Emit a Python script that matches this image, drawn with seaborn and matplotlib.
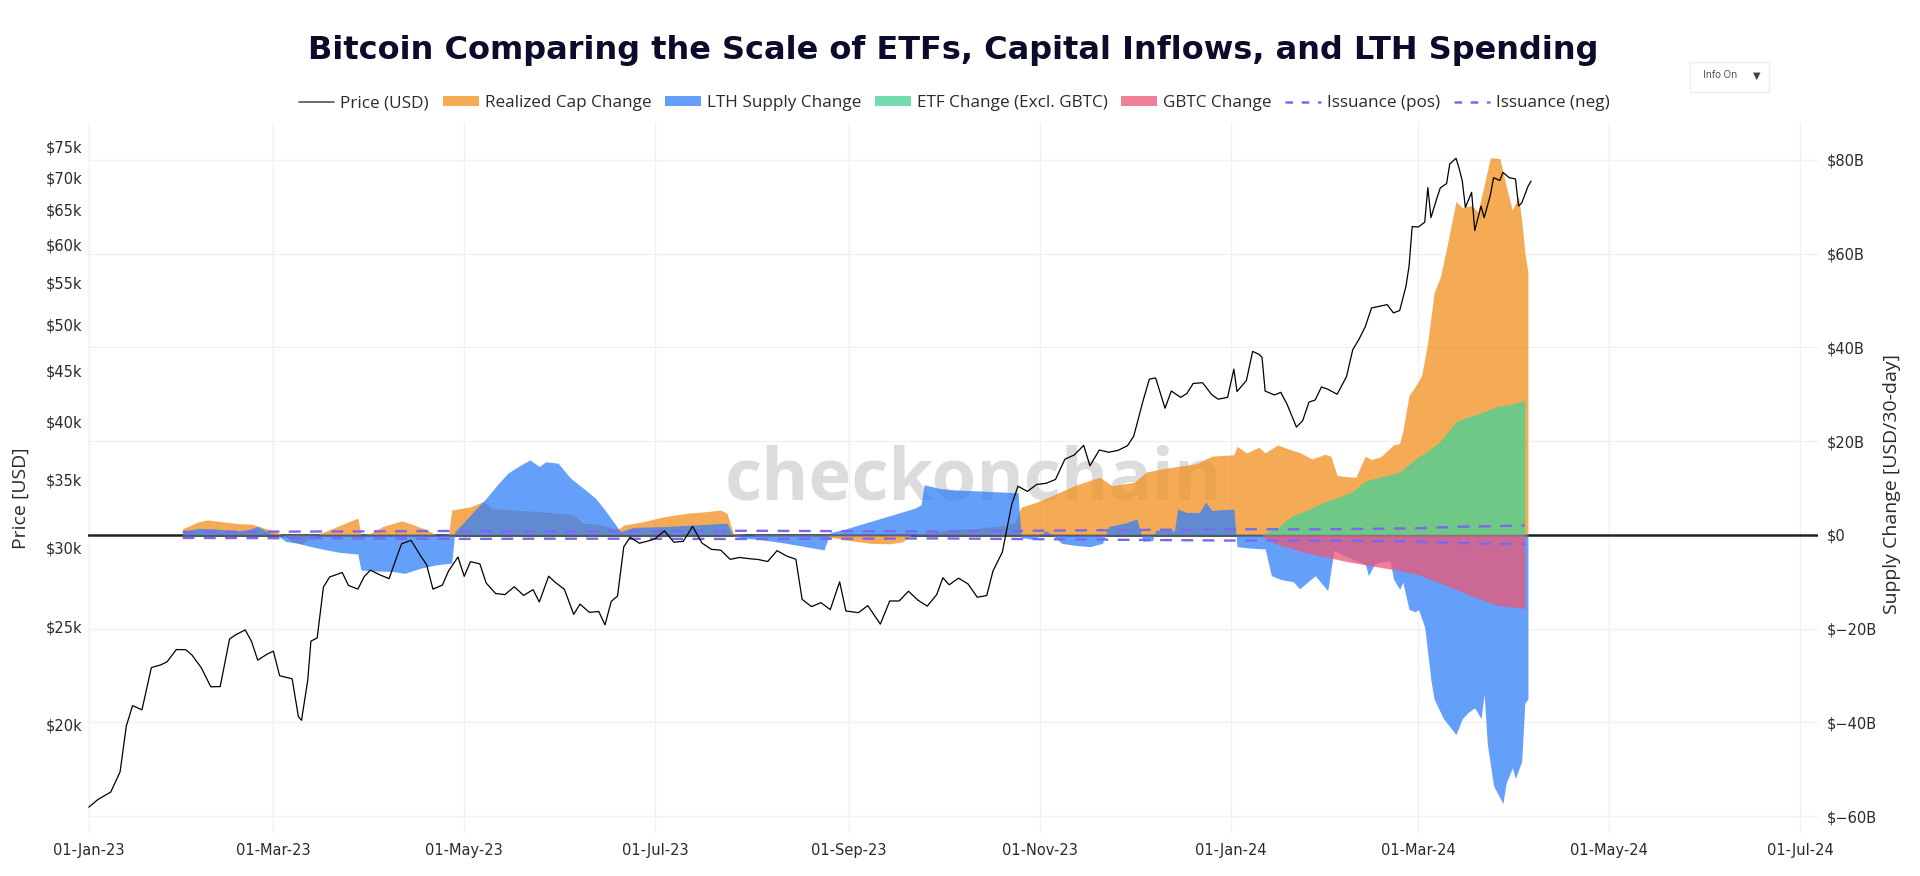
import pandas as pd
import matplotlib.pyplot as plt
import seaborn as sns
from matplotlib.lines import Line2D
from matplotlib.patches import Patch, Rectangle
from matplotlib.ticker import FixedLocator, NullLocator

# --- Data ---
# BTC price (USD), left log axis
price_dates = [
    "2023-01-01", "2023-01-04", "2023-01-08", "2023-01-11", "2023-01-13", "2023-01-15", "2023-01-18",
    "2023-01-21", "2023-01-24", "2023-01-26", "2023-01-29", "2023-02-01", "2023-02-03", "2023-02-06",
    "2023-02-09", "2023-02-12", "2023-02-15", "2023-02-17", "2023-02-20", "2023-02-22", "2023-02-24",
    "2023-02-27", "2023-03-01", "2023-03-03", "2023-03-07", "2023-03-09", "2023-03-10", "2023-03-12",
    "2023-03-13", "2023-03-15", "2023-03-17", "2023-03-19", "2023-03-21", "2023-03-23", "2023-03-25",
    "2023-03-28", "2023-03-30", "2023-04-01", "2023-04-04", "2023-04-07", "2023-04-10", "2023-04-11",
    "2023-04-14", "2023-04-17", "2023-04-19", "2023-04-21", "2023-04-24", "2023-04-26", "2023-04-29",
    "2023-05-01", "2023-05-03", "2023-05-06", "2023-05-08", "2023-05-11", "2023-05-14", "2023-05-17",
    "2023-05-20", "2023-05-23", "2023-05-25", "2023-05-28", "2023-05-30", "2023-06-02", "2023-06-05",
    "2023-06-07", "2023-06-10", "2023-06-13", "2023-06-15", "2023-06-17", "2023-06-19", "2023-06-21",
    "2023-06-23", "2023-06-26", "2023-06-29", "2023-07-01", "2023-07-04", "2023-07-07", "2023-07-10",
    "2023-07-13", "2023-07-16", "2023-07-19", "2023-07-22", "2023-07-25", "2023-07-28", "2023-07-31",
    "2023-08-03", "2023-08-06", "2023-08-09", "2023-08-12", "2023-08-15", "2023-08-17", "2023-08-20",
    "2023-08-23", "2023-08-26", "2023-08-29", "2023-08-31", "2023-09-04", "2023-09-07", "2023-09-11",
    "2023-09-14", "2023-09-17", "2023-09-20", "2023-09-23", "2023-09-26", "2023-09-29", "2023-10-01",
    "2023-10-03", "2023-10-06", "2023-10-09", "2023-10-12", "2023-10-15", "2023-10-17", "2023-10-20",
    "2023-10-23", "2023-10-25", "2023-10-28", "2023-10-31", "2023-11-03", "2023-11-06", "2023-11-09",
    "2023-11-12", "2023-11-15", "2023-11-17", "2023-11-20", "2023-11-23", "2023-11-26", "2023-11-29",
    "2023-12-01", "2023-12-04", "2023-12-06", "2023-12-08", "2023-12-11", "2023-12-13", "2023-12-16",
    "2023-12-18", "2023-12-20", "2023-12-23", "2023-12-26", "2023-12-28", "2023-12-31", "2024-01-02",
    "2024-01-03", "2024-01-06", "2024-01-08", "2024-01-10", "2024-01-11", "2024-01-12", "2024-01-15",
    "2024-01-17", "2024-01-19", "2024-01-22", "2024-01-24", "2024-01-26", "2024-01-28", "2024-01-30",
    "2024-02-01", "2024-02-04", "2024-02-07", "2024-02-09", "2024-02-11", "2024-02-13", "2024-02-15",
    "2024-02-18", "2024-02-20", "2024-02-22", "2024-02-24", "2024-02-26", "2024-02-27", "2024-02-28",
    "2024-03-01", "2024-03-03", "2024-03-04", "2024-03-05", "2024-03-07", "2024-03-08", "2024-03-10",
    "2024-03-11", "2024-03-13", "2024-03-14", "2024-03-15", "2024-03-16", "2024-03-18", "2024-03-19",
    "2024-03-21", "2024-03-22", "2024-03-24", "2024-03-25", "2024-03-27", "2024-03-28", "2024-03-30",
    "2024-04-01", "2024-04-02", "2024-04-03", "2024-04-05", "2024-04-06",
]
price_usd = [
    16550, 16850, 17130, 17940, 19930, 20880, 20680,
    22780, 22920, 23080, 23740, 23730, 23440, 22760,
    21800, 21810, 24320, 24560, 24830, 24190, 23170,
    23490, 23650, 22360, 22200, 20360, 20190, 22150,
    24200, 24380, 27390, 28030, 28170, 28320, 27490,
    27260, 28040, 28470, 28170, 27920, 29680, 30240,
    30480, 29440, 28820, 27260, 27510, 28420, 29340,
    28070, 29030, 28880, 27650, 26990, 26920, 27410,
    26870, 27230, 26470, 28080, 27700, 27250, 25730,
    26340, 25850, 25900, 25120, 26510, 26830, 30030,
    30690, 30280, 30450, 30590, 31150, 30350, 30410,
    31470, 30290, 29860, 29800, 29180, 29310, 29230,
    29170, 29040, 29770, 29410, 29190, 26630, 26190,
    26430, 26010, 27720, 25930, 25830, 26250, 25160,
    26530, 26530, 27130, 26580, 26220, 26910, 27980,
    27530, 27950, 27590, 26760, 26860, 28410, 29670,
    33090, 34500, 34090, 34640, 34730, 35040, 36700,
    37060, 37880, 36150, 37480, 37290, 37450, 37850,
    38690, 41980, 44080, 44200, 41240, 42900, 42280,
    42660, 43650, 43720, 42520, 42100, 42280, 45100,
    42850, 43930, 46970, 46660, 46340, 42890, 42510,
    42770, 41620, 39500, 40080, 41820, 42030, 43300,
    43080, 42580, 44330, 47150, 48300, 49700, 51880,
    52120, 52280, 51300, 51570, 54500, 57090, 62500,
    62440, 63130, 68330, 63800, 66850, 68300, 68960,
    72120, 73080, 71400, 69400, 65300, 67600, 61930,
    65500, 63780, 67200, 69900, 69450, 70750, 69900,
    69700, 65500, 65970, 68500, 69360,
]

# Realized cap change (USD bn / 30-day), right axis
rc_dates = [
    "2023-01-31", "2023-02-05", "2023-02-08", "2023-02-14", "2023-02-18", "2023-02-22", "2023-02-24",
    "2023-03-01", "2023-03-04", "2023-03-07", "2023-03-10", "2023-03-13", "2023-03-16", "2023-03-20",
    "2023-03-24", "2023-03-28", "2023-03-29", "2023-04-01", "2023-04-05", "2023-04-11", "2023-04-15",
    "2023-04-19", "2023-04-22", "2023-04-26", "2023-04-27", "2023-05-03", "2023-05-07", "2023-05-10",
    "2023-05-17", "2023-05-24", "2023-06-01", "2023-06-05", "2023-06-08", "2023-06-12", "2023-06-16",
    "2023-06-19", "2023-06-21", "2023-06-27", "2023-07-04", "2023-07-11", "2023-07-18", "2023-07-22",
    "2023-07-24", "2023-07-26", "2023-08-05", "2023-08-18", "2023-08-26", "2023-09-01", "2023-09-08",
    "2023-09-14", "2023-09-18", "2023-09-21", "2023-10-03", "2023-10-12", "2023-10-21", "2023-10-24",
    "2023-10-26", "2023-10-31", "2023-11-06", "2023-11-12", "2023-11-20", "2023-11-21", "2023-11-24",
    "2023-12-01", "2023-12-05", "2023-12-10", "2023-12-16", "2023-12-21", "2023-12-26", "2024-01-02",
    "2024-01-03", "2024-01-06", "2024-01-10", "2024-01-12", "2024-01-16", "2024-01-20", "2024-01-23",
    "2024-01-27", "2024-01-31", "2024-02-02", "2024-02-04", "2024-02-06", "2024-02-10", "2024-02-13",
    "2024-02-15", "2024-02-18", "2024-02-22", "2024-02-24", "2024-02-25", "2024-02-27", "2024-02-29",
    "2024-03-02", "2024-03-04", "2024-03-06", "2024-03-08", "2024-03-10", "2024-03-13", "2024-03-15",
    "2024-03-18", "2024-03-20", "2024-03-22", "2024-03-24", "2024-03-27", "2024-03-29", "2024-03-31",
    "2024-04-02", "2024-04-03", "2024-04-04", "2024-04-05",
]
rc_change = [
    1.3, 2.8, 3.2, 2.7, 2.4, 2.3, 1.9,
    0.85, 0.0, -1.4, -2.0, -0.7, 0.35, 1.4,
    2.5, 3.6, 0.0, 0.35, 1.8, 3.0, 2.1,
    1.1, 0.0, 0.1, 5.3, 6.0, 7.1, 5.7,
    5.3, 5.0, 4.6, 4.3, 2.5, 2.3, 1.8,
    1.1, 2.1, 2.8, 3.9, 4.6, 5.0, 5.3,
    4.6, 0.3, -0.3, -0.4, -0.5, -1.2, -1.8,
    -1.9, -1.5, 0.0, 1.1, 1.4, 2.1, 2.7,
    5.9, 7.0, 8.7, 10.5, 12.3, 11.9, 10.5,
    11.2, 13.4, 14.1, 14.7, 15.2, 16.8, 17.1,
    18.9, 17.5, 18.7, 17.5, 19.2, 18.2, 17.6,
    16.2, 17.2, 16.8, 12.7, 12.5, 12.3, 16.8,
    16.1, 16.7, 19.2, 19.5, 22.2, 29.8, 31.7,
    34.0, 41.2, 51.7, 55.0, 61.2, 71.2, 69.8,
    70.3, 68.9, 74.6, 80.5, 80.3, 74.6, 69.3,
    72.2, 67.0, 60.3, 56.0,
]

# LTH supply change (USD bn / 30-day)
lth_dates = [
    "2023-01-31", "2023-02-05", "2023-02-10", "2023-02-17", "2023-02-21", "2023-02-24", "2023-02-28",
    "2023-03-02", "2023-03-05", "2023-03-09", "2023-03-13", "2023-03-18", "2023-03-22", "2023-03-28",
    "2023-03-29", "2023-04-03", "2023-04-08", "2023-04-12", "2023-04-17", "2023-04-22", "2023-04-27",
    "2023-04-28", "2023-05-01", "2023-05-04", "2023-05-08", "2023-05-12", "2023-05-15", "2023-05-19",
    "2023-05-22", "2023-05-25", "2023-05-27", "2023-05-31", "2023-06-04", "2023-06-08", "2023-06-12",
    "2023-06-15", "2023-06-18", "2023-06-20", "2023-06-24", "2023-07-05", "2023-07-18", "2023-07-24",
    "2023-07-26", "2023-07-30", "2023-08-05", "2023-08-12", "2023-08-18", "2023-08-24", "2023-08-26",
    "2023-08-30", "2023-09-06", "2023-09-15", "2023-09-22", "2023-09-24", "2023-09-25", "2023-09-30",
    "2023-10-05", "2023-10-12", "2023-10-18", "2023-10-25", "2023-10-26", "2023-10-30", "2023-11-03",
    "2023-11-05", "2023-11-08", "2023-11-12", "2023-11-17", "2023-11-21", "2023-11-23", "2023-11-28",
    "2023-12-02", "2023-12-04", "2023-12-07", "2023-12-08", "2023-12-12", "2023-12-14", "2023-12-15",
    "2023-12-18", "2023-12-22", "2023-12-24", "2023-12-26", "2023-12-29", "2024-01-02", "2024-01-03",
    "2024-01-07", "2024-01-12", "2024-01-14", "2024-01-17", "2024-01-21", "2024-01-23", "2024-01-28",
    "2024-02-01", "2024-02-03", "2024-02-06", "2024-02-10", "2024-02-13", "2024-02-14", "2024-02-16",
    "2024-02-18", "2024-02-21", "2024-02-22", "2024-02-24", "2024-02-25", "2024-02-27", "2024-02-29",
    "2024-03-01", "2024-03-03", "2024-03-05", "2024-03-06", "2024-03-09", "2024-03-13", "2024-03-15",
    "2024-03-17", "2024-03-19", "2024-03-21", "2024-03-22", "2024-03-23", "2024-03-25", "2024-03-28",
    "2024-03-29", "2024-03-31", "2024-04-01", "2024-04-03", "2024-04-04", "2024-04-05",
]
lth_change = [
    0.7, 1.4, 1.3, 0.85, 1.1, 1.8, 0.35,
    0.0, -1.4, -1.8, -2.5, -3.2, -3.7, -4.1,
    -7.5, -7.7, -7.8, -8.2, -7.1, -6.4, -6.0,
    0.7, 2.8, 5.0, 7.8, 11.0, 13.2, 14.9,
    16.0, 14.6, 15.6, 15.3, 12.1, 10.0, 7.8,
    5.3, 2.5, 0.7, 1.6, 1.8, 2.3, 2.5,
    -0.3, -0.7, -1.1, -1.8, -2.5, -3.2, 0.5,
    1.1, 2.5, 4.3, 5.7, 6.4, 10.7, 9.9,
    9.6, 9.4, 9.2, 9.0, -0.5, -1.0, 0.9,
    0.0, -1.8, -2.2, -2.5, -1.8, 1.8, 2.5,
    3.4, -1.4, -1.2, 1.0, 1.3, 0.8, 5.5,
    4.8, 4.8, 7.0, 5.2, 5.4, 5.5, -2.5,
    -2.8, -3.0, -8.7, -9.5, -10.0, -11.5, -8.7,
    -11.9, -3.3, -4.3, -5.5, -6.2, -8.7, -6.2,
    -5.8, -5.5, -9.4, -11.6, -10.1, -15.9, -16.4,
    -15.9, -19.7, -31.1, -35.0, -39.2, -42.6, -39.2,
    -37.8, -36.9, -39.2, -34.0, -44.5, -53.5, -57.3,
    -53.0, -49.7, -52.0, -48.3, -35.9, -35.0,
]

# ETF change excl. GBTC and GBTC change (USD bn / 30-day)
etf_dates = [
    "2024-01-11", "2024-01-13", "2024-01-16", "2024-01-20", "2024-01-25", "2024-01-31", "2024-02-06",
    "2024-02-09", "2024-02-13", "2024-02-18", "2024-02-24", "2024-02-29", "2024-03-04", "2024-03-08",
    "2024-03-11", "2024-03-13", "2024-03-16", "2024-03-21", "2024-03-26", "2024-03-31", "2024-04-04",
]
etf_change = [
    0.0, 0.8, 1.6, 3.8, 5.2, 7.0, 8.4,
    9.3, 11.5, 12.4, 13.4, 16.2, 17.9, 20.0,
    22.5, 24.1, 25.0, 26.0, 27.4, 27.9, 28.7,
]
gbtc_dates = [
    "2024-01-11", "2024-01-12", "2024-01-15", "2024-01-20", "2024-01-25", "2024-02-01", "2024-02-08",
    "2024-02-15", "2024-02-22", "2024-02-29", "2024-03-05", "2024-03-10", "2024-03-15", "2024-03-20",
    "2024-03-26", "2024-03-31", "2024-04-04",
]
gbtc_change = [
    0.0, -0.8, -1.8, -2.8, -3.8, -4.8, -5.8,
    -6.6, -7.4, -8.3, -9.5, -10.8, -12.2, -13.5,
    -15.0, -15.4, -15.7,
]

# Miner issuance (USD bn / 30-day), shown mirrored as +/-
iss_dates = [
    "2023-01-31", "2023-02-28", "2023-03-31", "2023-04-30", "2023-05-31", "2023-06-30", "2023-07-31",
    "2023-08-31", "2023-09-30", "2023-10-31", "2023-11-30", "2023-12-31", "2024-01-31", "2024-02-29",
    "2024-03-15", "2024-03-31", "2024-04-04",
]
iss_pos = [0.65, 0.7, 0.75, 0.85, 0.8, 0.82, 0.88, 0.8, 0.75, 0.9, 1.05, 1.2, 1.2, 1.4, 1.75, 1.95, 2.0]
iss_neg = [-0.65, -0.7, -0.75, -0.85, -0.8, -0.82, -0.88, -0.8, -0.75, -0.9, -1.05, -1.2, -1.2, -1.4, -1.75, -1.95, -2.0]

price_ticks = [20000, 25000, 30000, 35000, 40000, 45000, 50000, 55000, 60000, 65000, 70000, 75000]
supply_ticks = [-60, -40, -20, 0, 20, 40, 60, 80]
date_ticks = ["2023-01-01", "2023-03-01", "2023-05-01", "2023-07-01", "2023-09-01", "2023-11-01",
              "2024-01-01", "2024-03-01", "2024-05-01", "2024-07-01"]

# --- Styling ---
sns.set_theme(style="white")
plt.rcParams['font.family'] = ['DejaVu Sans']

C_ORANGE = '#F29120'
C_BLUE = '#3382F9'
C_GREEN = '#46D297'
C_PINK = '#EB5876'
C_ISS = '#7B68EE'
ALPHA = 0.76
TXT = '#2A2A2A'

fig = plt.figure(figsize=(19.2, 8.76), dpi=100)
# ax: supply change (ticks on the right), ax2: price (log, ticks on the left), drawn on top
ax = fig.add_axes([88 / 1920, 1 - 833 / 876, (1818 - 88) / 1920, (833 - 122) / 876])
ax2 = ax.twinx()

for a in (ax, ax2):
    for s in a.spines.values():
        s.set_visible(False)

# supply fills
ax.fill_between(pd.to_datetime(rc_dates), 0, rc_change, color=C_ORANGE, alpha=ALPHA, lw=0, zorder=1)
ax.fill_between(pd.to_datetime(lth_dates), 0, lth_change, color=C_BLUE, alpha=ALPHA, lw=0, zorder=1.1)
ax.fill_between(pd.to_datetime(etf_dates), 0, etf_change, color=C_GREEN, alpha=ALPHA, lw=0, zorder=1.2)
ax.fill_between(pd.to_datetime(gbtc_dates), 0, gbtc_change, color=C_PINK, alpha=ALPHA, lw=0, zorder=1.3)
ax.plot(pd.to_datetime(iss_dates), iss_pos, color=C_ISS, lw=1.7, ls=(0, (5, 4)), zorder=1.5)
ax.plot(pd.to_datetime(iss_dates), iss_neg, color=C_ISS, lw=1.7, ls=(0, (5, 4)), zorder=1.5)
ax.axhline(0, color='#222222', lw=1.8, zorder=0.9)

# watermark beneath the fills
ax.text((973 - 88) / 1730, (833 - 480) / 711, "checkonchain", transform=ax.transAxes,
        ha='center', va='center', fontsize=52, fontweight='bold', family='Open Sans',
        color='#DCDCDC', zorder=0.6)

ax.set_ylim(-63.6, 88.1)
ax.yaxis.set_major_locator(FixedLocator(supply_ticks))
ax.set_yticklabels(["$0" if v == 0 else f"${v}B".replace("-", "\u2212") for v in supply_ticks])
ax.yaxis.tick_right()
ax.set_axisbelow(True)
ax.grid(True, color='#F0F0F0', lw=1)

ax.set_xlim(pd.Timestamp("2022-12-31 18:00"), pd.Timestamp("2024-07-06 17:00"))
ax.set_xticks(pd.to_datetime(date_ticks))
ax.set_xticklabels([pd.Timestamp(d).strftime("%d-%b-%y") for d in date_ticks])

# price line
price_df = pd.DataFrame({"date": pd.to_datetime(price_dates), "price": price_usd})
sns.lineplot(data=price_df, x="date", y="price", ax=ax2, color='black', lw=0.9, zorder=3)
ax2.set_yscale('log')
ax2.set_ylim(15600, 79400)
ax2.yaxis.set_major_locator(FixedLocator(price_ticks))
ax2.yaxis.set_minor_locator(NullLocator())
ax2.set_yticklabels([f"${v // 1000}k" for v in price_ticks])
ax2.yaxis.tick_left()
ax2.grid(False)
ax2.set_xlabel("")
ax2.set_ylabel("")
ax.set_xlabel("")
ax.set_ylabel("")

ax.tick_params(axis='x', length=0, pad=7, labelsize=10.5, colors=TXT)
ax.tick_params(axis='y', length=0, pad=6, labelsize=10.5, colors=TXT)
ax2.tick_params(axis='y', length=0, pad=4, labelsize=10.5, colors=TXT)

# titles and labels
fig.text(953 / 1920, 1 - 50 / 876, "Bitcoin Comparing the Scale of ETFs, Capital Inflows, and LTH Spending",
         ha='center', va='center', fontsize=23, fontweight='bold', color='#0B0B2B')
fig.text(21 / 1920, 1 - 498 / 876, "Price [USD]", rotation=90, ha='center', va='center',
         fontsize=14, family='Open Sans', color=TXT)
fig.text(1892 / 1920, 1 - 484 / 876, "Supply Change [USD/30-day]", rotation=90, ha='center', va='center',
         fontsize=14, family='Open Sans', color=TXT)

# "Info On" menu button
fig.patches.append(Rectangle((1690 / 1920, 1 - 92 / 876), 79 / 1920, 30 / 876, transform=fig.transFigure,
                             facecolor='white', edgecolor='#EEEEEE', lw=1))
fig.text(1703 / 1920, 1 - 76 / 876, "Info On", ha='left', va='center', fontsize=7, family='Open Sans', color='#444444')
fig.text(1757 / 1920, 1 - 76 / 876, "\u25BC", ha='center', va='center', fontsize=7, color='#444444')

# legend
handles = [
    Line2D([], [], color='#555555', lw=1.2),
    Patch(facecolor=C_ORANGE, alpha=ALPHA, lw=0),
    Patch(facecolor=C_BLUE, alpha=ALPHA, lw=0),
    Patch(facecolor=C_GREEN, alpha=ALPHA, lw=0),
    Patch(facecolor=C_PINK, alpha=ALPHA, lw=0),
    Line2D([], [], color=C_ISS, lw=1.8, ls=(0, (3, 3.5))),
    Line2D([], [], color=C_ISS, lw=1.8, ls=(0, (3, 3.5))),
]
labels = ["Price (USD)", "Realized Cap Change", "LTH Supply Change", "ETF Change (Excl. GBTC)",
          "GBTC Change", "Issuance (pos)", "Issuance (neg)"]
fig.legend(handles, labels, loc='center', bbox_to_anchor=(954 / 1920, 1 - 103 / 876), ncol=7,
           frameon=False, handlelength=2.1, handleheight=0.45, handletextpad=0.35, columnspacing=0.8,
           prop={'family': 'Open Sans', 'size': 12.3}, labelcolor=TXT)

fig.savefig("out.png", dpi=100)
